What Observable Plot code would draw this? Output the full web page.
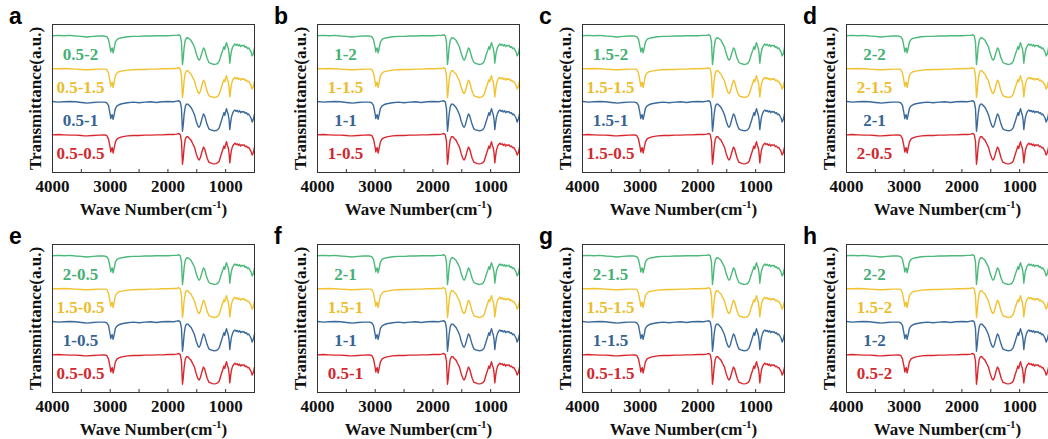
<!DOCTYPE html>
<html><head><meta charset="utf-8">
<script src="https://cdn.jsdelivr.net/npm/d3@7"></script>
<script src="https://cdn.jsdelivr.net/npm/@observablehq/plot@0.6"></script>
<style>
html,body{margin:0;padding:0;background:#fff;width:1048px;height:439px;overflow:hidden;}
#root{position:relative;width:1048px;height:439px;overflow:hidden;}
.panel{position:absolute;width:264px;height:220px;}
.panel svg{max-width:none !important;}
.letter{position:absolute;font-family:"Liberation Sans",Arial,sans-serif;font-weight:bold;font-size:23px;line-height:23px;color:#000;}
</style></head><body><div id="root"></div>
<script>
// ---- data ----
const wavenumbers = [4000,3900,3800,3700,3600,3500,3450,3400,3300,3200,3100,3060,3030,3000,2990,2975,2965,2950,2935,2910,2880,2850,2800,2700,2600,2500,2400,2300,2200,2100,2000,1900,1850,1810,1785,1765,1748,1735,1720,1700,1680,1655,1630,1600,1570,1540,1510,1480,1460,1440,1410,1385,1365,1345,1320,1290,1260,1230,1200,1170,1140,1110,1080,1050,1030,1015,1000,985,970,955,940,928,915,900,880,860,840,820,800,780,760,740,720,700,680,660,640,620,600,580,560,540,520,500];
const greenT  = [.99,1.00,.99,1.00,.98,.97,.96,.95,.97,.98,.98,.96,.88,.62,.50,.60,.62,.47,.58,.80,.88,.91,.93,.96,.97,.97,.98,.98,.99,.99,.99,1.00,1.00,1.02,.98,.80,.12,.30,.62,.85,.92,.93,.90,.85,.75,.65,.45,.30,.25,.30,.48,.62,.58,.45,.30,.18,.15,.14,.12,.13,.15,.22,.40,.55,.66,.58,.70,.78,.68,.62,.45,.16,.35,.52,.64,.70,.74,.70,.73,.68,.72,.66,.70,.68,.70,.64,.66,.60,.62,.56,.50,.38,.45,.62];
const yellowT = [.99,.99,1.00,.99,.98,.97,.96,.96,.97,.98,.98,.97,.86,.58,.46,.56,.58,.42,.55,.78,.86,.90,.92,.95,.96,.97,.97,.98,.98,.99,.99,1.00,1.00,1.02,.98,.78,.12,.30,.62,.85,.93,.93,.88,.83,.72,.62,.42,.28,.24,.30,.50,.64,.60,.46,.30,.18,.15,.14,.12,.13,.15,.22,.40,.56,.66,.60,.70,.78,.66,.60,.42,.14,.32,.52,.64,.70,.73,.69,.72,.67,.70,.65,.69,.67,.69,.63,.65,.60,.61,.55,.49,.38,.45,.62];
const blueT   = [1.00,.98,.99,1.00,.99,.97,.96,.95,.97,.98,.98,.96,.88,.60,.48,.58,.60,.46,.57,.79,.87,.90,.93,.96,.98,.96,.98,.99,.97,.99,1.00,.99,1.01,1.02,.98,.78,.10,.28,.60,.84,.92,.92,.88,.82,.72,.60,.40,.26,.22,.28,.48,.62,.58,.45,.30,.17,.14,.13,.11,.12,.14,.21,.38,.55,.66,.58,.70,.78,.68,.60,.44,.15,.34,.52,.64,.71,.74,.70,.73,.68,.72,.66,.70,.68,.69,.64,.66,.60,.62,.56,.50,.38,.46,.62];
const redT    = [.99,1.00,.99,.98,.98,.97,.96,.96,.97,.98,.99,.97,.87,.60,.47,.57,.60,.44,.56,.78,.87,.90,.93,.96,.97,.97,.98,.98,.99,.99,1.00,1.00,1.01,1.03,.99,.80,.10,.28,.60,.85,.93,.93,.88,.83,.72,.62,.42,.27,.23,.29,.48,.62,.57,.44,.28,.16,.14,.12,.11,.12,.14,.20,.38,.54,.65,.58,.70,.78,.67,.60,.43,.14,.33,.52,.64,.70,.74,.70,.72,.67,.71,.65,.69,.67,.69,.63,.65,.60,.61,.55,.49,.38,.45,.62];

const panelLetters = ["a","b","c","d","e","f","g","h"];
const sampleLabels = [
  ["0.5-2","0.5-1.5","0.5-1","0.5-0.5"],
  ["1-2","1-1.5","1-1","1-0.5"],
  ["1.5-2","1.5-1.5","1.5-1","1.5-0.5"],
  ["2-2","2-1.5","2-1","2-0.5"],
  ["2-0.5","1.5-0.5","1-0.5","0.5-0.5"],
  ["2-1","1.5-1","1-1","0.5-1"],
  ["2-1.5","1.5-1.5","1-1.5","0.5-1.5"],
  ["2-2","1.5-2","1-2","0.5-2"]
];
const stackOffsets = [3, 2, 1, 0];
const majorTicks = [4000, 3000, 2000, 1000];
const minorTicks = [4000, 3500, 3000, 2500, 2000, 1500, 1000, 500];

// ---- styling ----
const lineColors  = ["#4cb97a", "#f1c232", "#3b6a9a", "#d8282f"];
const labelColors = ["#45b074", "#ecbd2c", "#356494", "#d02a30"];
const spectra = [greenT, yellowT, blueT, redT];

const root = document.getElementById("root");
const colX = [0, 265, 530, 794];
const rowY = [0, 220];

panelLetters.forEach((letter, p) => {
  const col = p % 4, row = Math.floor(p / 4);
  const rows = [];
  spectra.forEach((arr, s) => {
    arr.forEach((t, i) => rows.push({wn: wavenumbers[i], y: stackOffsets[s] + t, s}));
  });
  const labs = sampleLabels[p].map((text, s) => ({text, y: stackOffsets[s] + 0.43, s}));

  const chart = Plot.plot({
    width: 264, height: 220,
    marginLeft: 52, marginRight: 10, marginTop: 24, marginBottom: 48,
    x: {domain: [4000, 500]},
    y: {domain: [-0.15, 4.33]},
    style: {fontFamily: "'Liberation Serif','Times New Roman',serif", fontSize: "17px", fontWeight: "bold", color: "#111", background: "transparent", overflow: "visible", maxWidth: "none"},
    marks: [
      Plot.line(rows, {x: "wn", y: "y", z: "s", stroke: d => lineColors[d.s], strokeWidth: 1.4, curve: "linear"}),
      Plot.text(labs, {y: "y", frameAnchor: "left", dx: 28, textAnchor: "middle", text: "text", fill: d => labelColors[d.s], fontSize: 17, fontWeight: "bold"}),
      Plot.frame({stroke: "#333", strokeWidth: 1}),
      Plot.axisX({ticks: minorTicks, tickSize: -3, tickFormat: () => "", label: null, stroke: "#333"}),
      Plot.axisX({ticks: majorTicks, tickSize: 0, tickPadding: 7, tickFormat: d => String(d), label: "Wave Number(cm-1)", labelAnchor: "center", labelArrow: "none", labelOffset: 42}),
      Plot.axisY({ticks: [], label: "Transmittance(a.u.)", labelAnchor: "center", labelArrow: "none", labelOffset: 24})
    ]
  });
  // superscript in x label
  chart.querySelectorAll('g[aria-label="x-axis label"] text').forEach(t => {
    if (t.textContent.includes("cm-1")) {
      t.textContent = "";
      const ns = "http://www.w3.org/2000/svg";
      const a = document.createElementNS(ns, "tspan"); a.textContent = "Wave Number(cm";
      const b = document.createElementNS(ns, "tspan"); b.textContent = "-1"; b.setAttribute("font-size", "11px"); b.setAttribute("dy", "-7");
      const c = document.createElementNS(ns, "tspan"); c.textContent = ")"; c.setAttribute("dy", "7");
      t.appendChild(a); t.appendChild(b); t.appendChild(c);
    }
  });
  chart.style.maxWidth = "none";
  const div = document.createElement("div");
  div.className = "panel";
  div.style.left = colX[col] + "px";
  div.style.top = rowY[row] + "px";
  div.appendChild(chart);
  root.appendChild(div);

  const L = document.createElement("div");
  L.className = "letter";
  L.textContent = letter;
  L.style.left = (colX[col] + 9) + "px";
  L.style.top = (rowY[row] + 5) + "px";
  root.appendChild(L);
});
</script></body></html>
